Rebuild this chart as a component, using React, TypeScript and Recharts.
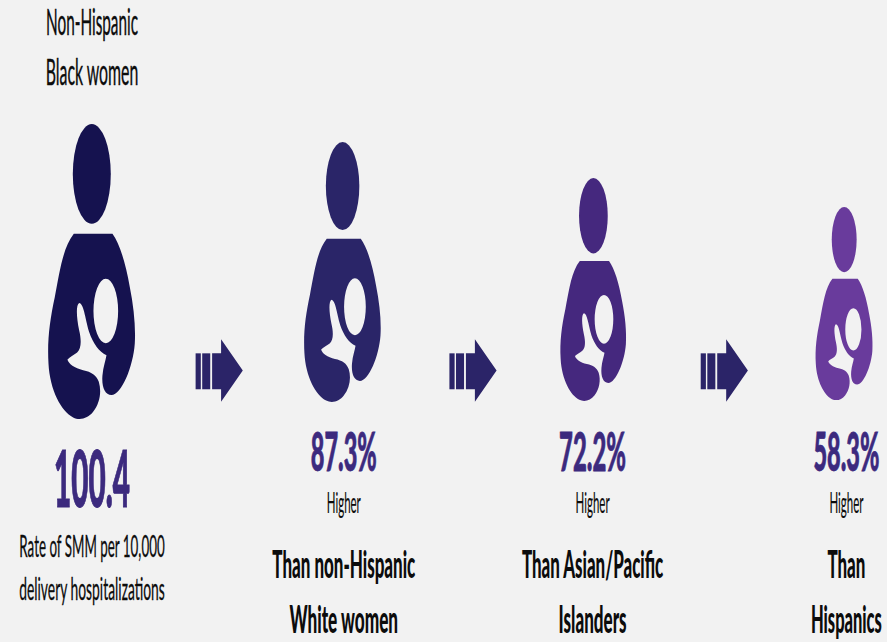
import { BarChart, Bar, XAxis, YAxis } from "recharts";

const groups = ["Non-Hispanic Black women", "Non-Hispanic White women", "Asian/Pacific Islanders", "Hispanics"];
const rates = [100.4, 87.3, 72.2, 58.3];
const rateUnits = ["", "%", "%", "%"];
const figureFloors = [75.3, 81.1, 81.5, 81.8];
const figureSpans = [100.4, 88.5, 75.9, 65.8];
const figureColors = ["#15124f", "#2a2568", "#45287e", "#693b9c"];
const arrowFloor = 81.5;
const arrowSpan = 21.2;

const headingLines = ["Non-Hispanic", "Black women"];
const captionLines = ["Rate of SMM per 10,000", "delivery hospitalizations"];
const comparisonWord = "Higher";
const comparisonLines = [
  ["Than non-Hispanic", "White women"],
  ["Than Asian/Pacific", "Islanders"],
  ["Than", "Hispanics"],
];

const INK = "#0c0c0c";
const STAT = "#3c2a7e";
const ARROW = "#2b2468";
const ARROW_NUDGES = [2, 5, 5.5];
const TEXT_NUDGES = [0, 1, -1, 2];

// Narrow type: Lato is set large, then squeezed to these run widths.
const RUN_WIDTHS: Record<string, number> = {
  "Non-Hispanic": 92,
  "Black women": 93,
  "100.4": 76,
  "87.3%": 66,
  "72.2%": 67,
  "58.3%": 66,
  "Rate of SMM per 10,000": 146,
  "delivery hospitalizations": 146,
  Higher: 34,
  "Than non-Hispanic": 143,
  "White women": 109,
  "Than Asian/Pacific": 142,
  Islanders: 68,
  Than: 38,
  Hispanics: 71,
};

// Figures and arrows alternate along the band axis.
type Row = { slot: string; span: [number, number]; kind: "figure" | "arrow"; color: string; nudge: number };
const rows: Row[] = groups.flatMap((group, i) => {
  const figure: Row = {
    slot: group,
    span: [figureFloors[i], figureFloors[i] + figureSpans[i]],
    kind: "figure",
    color: figureColors[i],
    nudge: 0,
  };
  if (i === groups.length - 1) return [figure];
  const arrow: Row = {
    slot: `step ${i + 1}`,
    span: [arrowFloor, arrowFloor + arrowSpan],
    kind: "arrow",
    color: ARROW,
    nudge: ARROW_NUDGES[i],
  };
  return [figure, arrow];
});

// Body outline in a 262 x 890 box, offset by the glyph's drawing origin.
const BODY =
  "M222 400 L338 400 C360 430 378 490 390 560 C402 620 408 680 405 730 C400 800 365 885 335 885 " +
  "C315 885 305 860 308 825 C310 800 318 780 320 765 C298 755 280 730 268 695 C255 650 252 610 238 608 " +
  "C228 615 230 650 238 690 C245 720 245 745 232 757 C222 765 210 770 203 778 C205 790 225 805 250 810 " +
  "C275 815 290 825 297 845 C306 875 300 910 280 935 C265 955 240 962 220 952 C185 935 150 870 146 790 " +
  "C142 720 150 660 165 590 C180 510 190 440 222 400 Z " +
  "M281 632 A37 97 0 1 0 355 632 A37 97 0 1 0 281 632 Z";

function Mark(props: any) {
  const { x, y, width, height, payload } = props;
  const cx = x + width / 2;
  if (payload.kind === "arrow") {
    const w = height * 0.755;
    const left = cx - w / 2 + payload.nudge;
    const px = (t: number) => left + w * t;
    const py = (t: number) => y + height * t;
    const shaftTop = py(0.225);
    const shaftBottom = py(0.8);
    return (
      <g fill={payload.color}>
        <rect x={px(0)} y={shaftTop} width={w * 0.11} height={shaftBottom - shaftTop} />
        <rect x={px(0.14)} y={shaftTop} width={w * 0.17} height={shaftBottom - shaftTop} />
        <path
          d={`M${px(0.35)} ${shaftTop} L${px(0.54)} ${shaftTop} L${px(0.54)} ${py(0)} L${px(1)} ${py(0.5)} L${px(0.54)} ${py(1)} L${px(0.54)} ${shaftBottom} L${px(0.35)} ${shaftBottom} Z`}
        />
      </g>
    );
  }
  const w = height * 0.295;
  return (
    <g transform={`translate(${cx - w / 2} ${y}) scale(${w / 262} ${height / 890}) translate(-145 -70)`} fill={payload.color}>
      <ellipse cx={276} cy={220} rx={57} ry={150} />
      <path d={BODY} fillRule="evenodd" />
    </g>
  );
}

const measureCtx = document.createElement("canvas").getContext("2d")!;

function Run({ x, y, text, size, weight = 400, fill = INK, stroke = 0 }: any) {
  measureCtx.font = `${weight} ${size}px Lato`;
  const squeeze = RUN_WIDTHS[text] / measureCtx.measureText(text).width;
  return (
    <text
      transform={`translate(${x} ${y}) scale(${squeeze} 1)`}
      textAnchor="middle"
      fontFamily="Lato"
      fontSize={size}
      fontWeight={weight}
      fill={fill}
      stroke={stroke ? fill : "none"}
      strokeWidth={stroke}
    >
      {text}
    </text>
  );
}

function SlotText(props: any) {
  const { x, index } = props;
  if (index % 2 === 1) return <g />;
  const i = index / 2;
  const cx = x + TEXT_NUDGES[i];
  const stat = `${rates[i]}${rateUnits[i]}`;
  if (i === 0) {
    return (
      <g>
        <Run x={cx} y={35} text={headingLines[0]} size={36} stroke={0.4} />
        <Run x={cx} y={85} text={headingLines[1]} size={36} stroke={0.4} />
        <Run x={cx} y={507} text={stat} size={78} weight={900} fill={STAT} stroke={1.2} />
        <Run x={cx} y={557} text={captionLines[0]} size={31} stroke={0.3} />
        <Run x={cx} y={600} text={captionLines[1]} size={31} stroke={0.3} />
      </g>
    );
  }
  const [first, second] = comparisonLines[i - 1];
  return (
    <g>
      <Run x={cx} y={471} text={stat} size={53} weight={900} fill={STAT} stroke={0.8} />
      <Run x={cx} y={513} text={comparisonWord} size={29} stroke={0.2} />
      <Run x={cx} y={578} text={first} size={38} weight={900} />
      <Run x={cx} y={633} text={second} size={38} weight={900} />
    </g>
  );
}

export default function App() {
  return (
    <div style={{ position: "absolute", left: 0, top: 0, width: 887, height: 642, background: "#f2f2f2", overflow: "hidden" }}>
      <BarChart
        width={887}
        height={642}
        data={rows}
        barCategoryGap={0}
        margin={{ top: -1, bottom: 0, left: 29.3, right: -20.1 }}
      >
        <XAxis
          dataKey="slot"
          orientation="top"
          height={1}
          interval={0}
          axisLine={false}
          tickLine={false}
          tick={<SlotText />}
        />
        <YAxis hide domain={[0, 217.8]} />
        <Bar dataKey="span" shape={<Mark />} isAnimationActive={false} />
      </BarChart>
    </div>
  );
}
